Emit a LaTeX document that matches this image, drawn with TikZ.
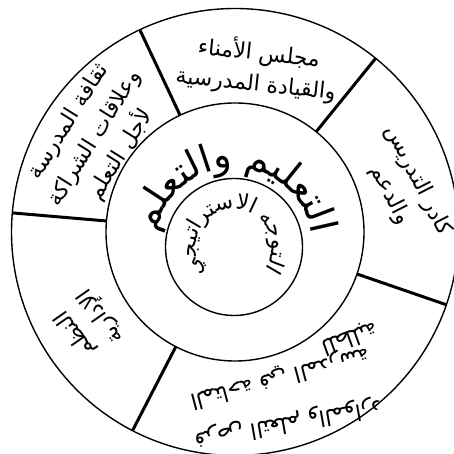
\documentclass[tikz,border=0pt]{standalone}
\usepackage{fontspec}
\newfontfamily\arabicfont[Script=Arabic]{DejaVu Sans}
\TeXXeTstate=1
\usetikzlibrary{calc}
\def\Z{^^^^200d}
\newsavebox\chbox
\newdimen\chdim
\newcounter{chn}
\makeatletter
\newcommand\preparc[5]{%
  \gdef#1{}%
  \def\curang{#3}%
  \@for\chk:=#5\do{%
    \sbox\chbox{#4\beginR\chk\endR}%
    \chdim=\wd\chbox
    \pgfmathsetmacro\dang{\chdim/#2*57.29578}%
    \pgfmathsetmacro\mang{\curang+\dang/2}%
    \edef\tmp{\noexpand\arcitem{\mang}{\unexpanded\expandafter{\chk}}}%
    \expandafter\g@addto@macro\expandafter#1\expandafter{\tmp}%
    \pgfmathsetmacro\curang{\curang+\dang}%
  }}
\makeatother
\newcommand\placearc[5]{%
  \def\arcitem##1##2{\stepcounter{chn}%
    \node[arcch, rotate=##1-90] (ch\arabic{chn}) at ({#2+#4*cos(##1)},{#3+#4*sin(##1)}) {#5\beginR##2\endR};}%
  #1}
\newcommand\bigarcfont{\arabicfont\fontsize{38}{38}\selectfont}
\newcommand\smallarcfont{\arabicfont\fontsize{22}{22}\selectfont}
\begin{document}
\preparc{\arcA}{79}{9}{\bigarcfont}{ا,ل\Z,\Z ت\Z,\Z ع\Z,\Z ل\Z,\Z ي\Z,\Z م,~,و,ا,ل\Z,\Z ت\Z,\Z ع\Z,\Z ل\Z,\Z م}%
\preparc{\arcB}{38}{-35}{\smallarcfont}{ا,ل\Z,\Z ت\Z,\Z و,ج\Z,\Z ه,~,ا,لا,س\Z,\Z ت\Z,\Z ر,ا,ت\Z,\Z ي\Z,\Z ج\Z,\Z ي}%
\begin{tikzpicture}[x=1pt,y=1pt,
  ring/.style={line width=1.4pt},
  divider/.style={line width=3pt},
  seg/.style={font=\arabicfont\fontsize{22}{31}\selectfont, align=center, inner sep=0pt},
  arcch/.style={inner sep=0pt, anchor=base}]
\useasboundingbox (0,0) rectangle (454,454);
\fill[white] (0,0) rectangle (454,454);
\coordinate (C) at (235,222);
\coordinate (I) at (234,207);
\draw[ring] (C) circle (223.5);
\draw[ring] (C) circle (129);
\draw[ring] (I) circle (68.5);
\foreach \a in {115.2,51,-19,242.7,175.1}
  \draw[divider] ($(C)+(\a:129)$) -- ($(C)+(\a:223.5)$);
% segments
\node[seg, rotate=-6] (s1) at (257.5,386) {\beginR مجلس الأمناء\endR\\\beginR والقيادة المدرسية\endR};
\node[seg, rotate=-63] (s2) at (404,266) {\beginR كادر التدريس\endR\\\beginR والدعم\endR};
\node[seg, rotate=58] (s3) at (95,315.6) {\beginR ثقافة المدرسة\endR\\\beginR وعلاقات الشراكة\endR\\\beginR لأجل التعلم\endR};
\node[seg, rotate=125] (s4) at (88.5,129) {\beginR النظم\endR\\\beginR الإدارية\endR};
\node[seg, rotate=-170] (s5a) at (288,31) {\beginR فرص التعلم والموارد\endR};
\node[seg, rotate=-165] (s5b) at (280,77) {\beginR المتاحة في المدرسة\endR};
\node[seg, rotate=-160] (s5c) at (350,116) {\beginR للطلبة\endR};
% arc texts
\placearc{\arcA}{234}{207}{79}{\bigarcfont}
\placearc{\arcB}{234}{207}{38}{\smallarcfont}
\end{tikzpicture}
\end{document}
